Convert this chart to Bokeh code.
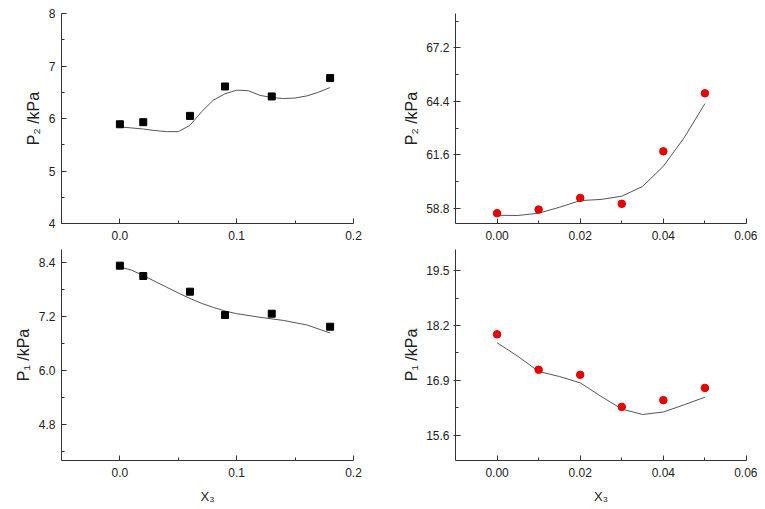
from bokeh.plotting import figure
from bokeh.layouts import row, column
from bokeh.models import FixedTicker, PrintfTickFormatter, Range1d
from bokeh.embed import file_html
from bokeh.resources import INLINE

# ---- data: top-left (P2, squares) ----
tl_x = [0.0, 0.02, 0.06, 0.09, 0.13, 0.18]
tl_y = [5.89, 5.93, 6.05, 6.61, 6.42, 6.77]
tl_cx = [0.0, 0.01, 0.02, 0.03, 0.04, 0.05, 0.06, 0.07, 0.08, 0.09, 0.10, 0.11, 0.12, 0.13, 0.14, 0.15, 0.16, 0.17, 0.18]
tl_cy = [5.84, 5.82, 5.80, 5.77, 5.75, 5.75, 5.87, 6.13, 6.35, 6.47, 6.54, 6.53, 6.44, 6.40, 6.38, 6.39, 6.43, 6.50, 6.59]

# ---- data: top-right (P2, circles) ----
tr_x = [0.0, 0.01, 0.02, 0.03, 0.04, 0.05]
tr_y = [58.54, 58.73, 59.34, 59.03, 61.78, 64.82]
tr_cx = [0.0, 0.005, 0.01, 0.015, 0.02, 0.025, 0.03, 0.035, 0.04, 0.045, 0.05]
tr_cy = [58.43, 58.42, 58.54, 58.85, 59.20, 59.26, 59.43, 59.94, 61.00, 62.49, 64.28]

# ---- data: bottom-left (P1, squares) ----
bl_x = [0.0, 0.02, 0.06, 0.09, 0.13, 0.18]
bl_y = [8.34, 8.11, 7.76, 7.24, 7.27, 6.98]
bl_cx = [0.0, 0.01, 0.02, 0.03, 0.04, 0.05, 0.06, 0.07, 0.08, 0.09, 0.10, 0.12, 0.14, 0.16, 0.18]
bl_cy = [8.31, 8.24, 8.12, 7.99, 7.86, 7.73, 7.61, 7.50, 7.41, 7.33, 7.27, 7.19, 7.12, 7.02, 6.84]

# ---- data: bottom-right (P1, circles) ----
br_x = [0.0, 0.01, 0.02, 0.03, 0.04, 0.05]
br_y = [17.99, 17.15, 17.03, 16.27, 16.43, 16.72]
br_cx = [0.0, 0.005, 0.01, 0.015, 0.02, 0.025, 0.03, 0.035, 0.04, 0.045, 0.05]
br_cy = [17.79, 17.47, 17.11, 16.99, 16.84, 16.52, 16.22, 16.09, 16.15, 16.32, 16.50]

# ---- ticks ----
tl_xt, tl_xm, tl_yt, tl_ym = [0.0, 0.1, 0.2], [0.05, 0.15], [4, 5, 6, 7, 8], [4.5, 5.5, 6.5, 7.5]
tr_xt, tr_xm = [0.0, 0.02, 0.04, 0.06], [0.01, 0.03, 0.05]
tr_yt, tr_ym = [58.8, 61.6, 64.4, 67.2], [60.2, 63.0, 65.8, 68.6]
bl_yt, bl_ym = [4.8, 6.0, 7.2, 8.4], [4.2, 5.4, 6.6, 7.8]
br_yt, br_ym = [15.6, 16.9, 18.2, 19.5], [16.25, 17.55, 18.85]

FONT = "Liberation Sans"
AX = "#333333"
LINE = "#555555"


def make(w, h, xr, yr, xt, xm, yt, ym, xfmt, yfmt, ylabel, xlabel, bl, br, bt, bb, ycross=False):
    p = figure(width=w, height=h, x_range=Range1d(*xr), y_range=Range1d(*yr),
               output_backend="svg", toolbar_location=None,
               min_border_left=bl, min_border_right=br, min_border_top=bt, min_border_bottom=bb)
    p.outline_line_color = None
    p.xgrid.visible = False
    p.ygrid.visible = False
    p.background_fill_color = "white"
    p.border_fill_color = "white"
    p.xaxis.ticker = FixedTicker(ticks=xt, minor_ticks=xm)
    p.yaxis.ticker = FixedTicker(ticks=yt, minor_ticks=ym)
    p.xaxis.formatter = PrintfTickFormatter(format=xfmt)
    p.yaxis.formatter = PrintfTickFormatter(format=yfmt)
    for ax in (p.xaxis, p.yaxis):
        ax.axis_line_color = AX
        ax.major_tick_line_color = AX
        ax.minor_tick_line_color = AX
        ax.major_tick_in = 5
        ax.major_tick_out = 0
        ax.minor_tick_in = 3
        ax.minor_tick_out = 0
        ax.major_label_text_font = FONT
        ax.major_label_text_font_size = "12px"
        ax.major_label_text_color = "#222222"
        ax.axis_label_text_font = FONT
        ax.axis_label_text_font_style = "normal"
        ax.axis_label_text_color = "#222222"
    p.xaxis.major_label_standoff = 7
    p.yaxis.major_label_standoff = 6
    if ycross:
        p.yaxis.major_tick_out = 2
        p.yaxis.major_label_standoff = 4
    p.yaxis.axis_label = ylabel
    p.yaxis.axis_label_text_font_size = "16px"
    p.yaxis.axis_label_standoff = 3 if ycross else 4
    if xlabel:
        p.xaxis.axis_label = xlabel
        p.xaxis.axis_label_text_font_size = "13px"
        p.xaxis.axis_label_standoff = 9
    return p


p1 = make(400, 245, (-0.05, 0.2), (4, 8), tl_xt, tl_xm, tl_yt, tl_ym, "%.1f", "%d",
          "P₂ /kPa", None, 61, 47, 13, 22)
p1.line(tl_cx, tl_cy, line_color=LINE, line_width=1)
p1.scatter(tl_x, tl_y, marker="square", size=7, fill_color="black", line_color="black")

p2 = make(357, 245, (-0.01, 0.06), (58.0, 69.0), tr_xt, tr_xm, tr_yt, tr_ym, "%.2f", "%.1f",
          "P₂ /kPa", None, 53, 11, 13, 22, ycross=True)
p2.line(tr_cx, tr_cy, line_color=LINE, line_width=1)
p2.scatter(tr_x, tr_y, marker="circle", size=7.5, fill_color="#ee0000", line_color="#dd0000")

p3 = make(400, 261, (-0.05, 0.2), (4.0, 8.7), tl_xt, tl_xm, bl_yt, bl_ym, "%.1f", "%.1f",
          "P₁ /kPa", "X₃", 61, 47, 4, 46)
p3.line(bl_cx, bl_cy, line_color=LINE, line_width=1)
p3.scatter(bl_x, bl_y, marker="square", size=7, fill_color="black", line_color="black")

p4 = make(357, 261, (-0.01, 0.06), (15.0, 20.0), tr_xt, tr_xm, br_yt, br_ym, "%.2f", "%.1f",
          "P₁ /kPa", "X₃", 53, 11, 4, 46, ycross=True)
p4.line(br_cx, br_cy, line_color=LINE, line_width=1)
p4.scatter(br_x, br_y, marker="circle", size=7.5, fill_color="#ee0000", line_color="#dd0000")

layout = column(row(p1, p2), row(p3, p4))
open("out.html", "w").write(file_html(layout, INLINE))
